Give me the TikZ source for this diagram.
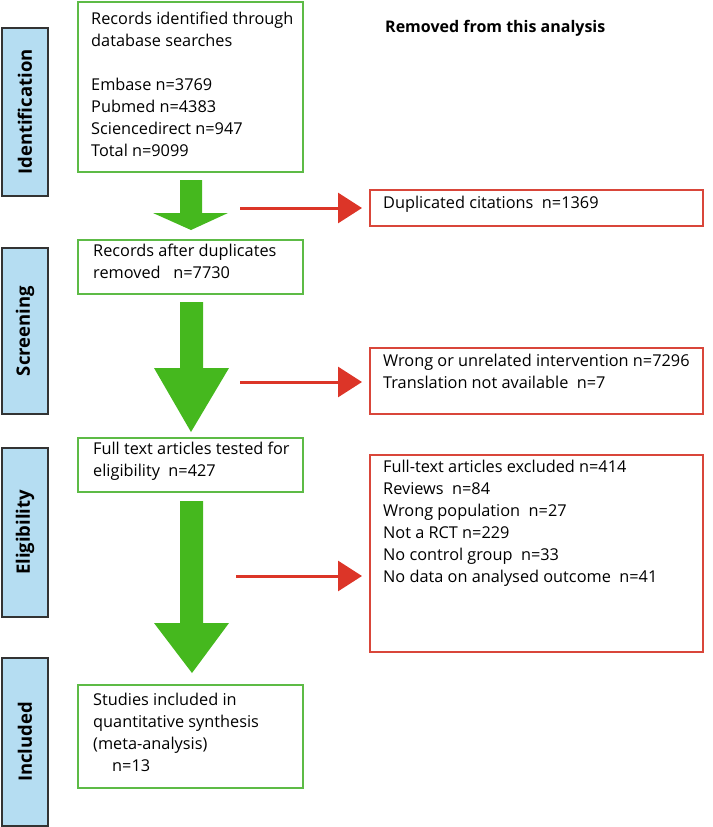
\documentclass[tikz,border=0pt]{standalone}
\usepackage{fontspec}
\setmainfont{Open Sans}
\usetikzlibrary{arrows.meta}
\begin{document}
\begin{tikzpicture}[x=1pt,y=-1pt,
  side/.style={draw=black!80,line width=1.2pt,fill=sideblue},
  gbox/.style={draw=boxgreen,line width=1.4pt,inner sep=0pt},
  rbox/.style={draw=boxred,line width=1.1pt},
  txt/.style={font=\fontsize{16.3}{22}\selectfont,anchor=north west,align=left,inner sep=0pt},
  stxt/.style={font=\bfseries\fontsize{18.5}{20}\selectfont,rotate=90},
  garrow/.style={fill=arrowgreen},
  rarrow/.style={draw=arrowred,line width=3pt,-{Triangle[length=24pt,width=30pt]}}]
\definecolor{sideblue}{HTML}{B5DDF2}
\definecolor{boxgreen}{HTML}{5DBB46}
\definecolor{arrowgreen}{HTML}{45B81E}
\definecolor{boxred}{HTML}{D9463A}
\definecolor{arrowred}{HTML}{DC3528}
\useasboundingbox (0,0) rectangle (712,827);
% side bars
\foreach \n/\a/\b/\t in {s1/28/196/Identification,s2/248/414/Screening,s3/448/617/Eligibility,s4/658/826/Included}{
  \draw[side] (2,\a) rectangle (48,\b);
  \node[stxt] (\n) at (25,{(\a+\b)/2}) {\t};
}
% green boxes
\draw[gbox] (78,2) rectangle (303,172);
\node[txt] (b1) at (91,12) {Records identified through\\database searches\\[22pt]Embase n=3769\\Pubmed n=4383\\Sciencedirect n=947\\Total n=9099};
\draw[gbox] (78,240) rectangle (303,294);
\node[txt] (b2) at (93,244) {Records after duplicates\\removed\ \ \ n=7730};
\draw[gbox] (78,438) rectangle (303,492);
\node[txt] (b3) at (93,442) {Full text articles tested for\\eligibility\ \ n=427};
\draw[gbox,line width=2.2pt] (78,685) rectangle (303,788);
\node[txt] (b4) at (93,693) {Studies included in\\quantitative synthesis\\(meta-analysis)\\\hspace{19pt}n=13};
% green arrows
\fill[garrow] (180,180) -- (202,180) -- (202,213) -- (228,213) -- (191,230) -- (153,213) -- (180,213) -- cycle;
\fill[garrow] (180,302) -- (203,302) -- (203,368) -- (229,368) -- (191,432) -- (154,368) -- (180,368) -- cycle;
\fill[garrow] (180,501) -- (203,501) -- (203,623) -- (229,623) -- (192,673) -- (154,623) -- (180,623) -- cycle;
% title
\node[font=\bfseries\fontsize{16}{18}\selectfont,anchor=west,inner sep=0pt] (t) at (385,28) {Removed from this analysis};
% red boxes
\draw[rbox] (370,190) rectangle (703,226);
\node[txt] (r1) at (383,196) {Duplicated citations\ \ n=1369};
\draw[rbox] (370,348) rectangle (703,414);
\node[txt] (r2) at (383,354) {Wrong or unrelated intervention\ n=7296\\Translation not available\ \ n=7};
\draw[rbox] (370,455) rectangle (703,652);
\node[txt] (r3) at (383,460) {Full-text articles excluded\ n=414\\Reviews\ \ n=84\\Wrong population\ \ n=27\\Not a RCT\ n=229\\No control group\ \ n=33\\No data on analysed outcome\ \ n=41};
% red arrows
\coordinate (a1) at (240,208); \coordinate (e1) at (362,208);
\coordinate (a2) at (240,382); \coordinate (e2) at (362,382);
\coordinate (a3) at (236,576); \coordinate (e3) at (362,576);
\draw[rarrow] (a1) -- (e1);
\draw[rarrow] (a2) -- (e2);
\draw[rarrow] (a3) -- (e3);
\end{tikzpicture}
\end{document}
